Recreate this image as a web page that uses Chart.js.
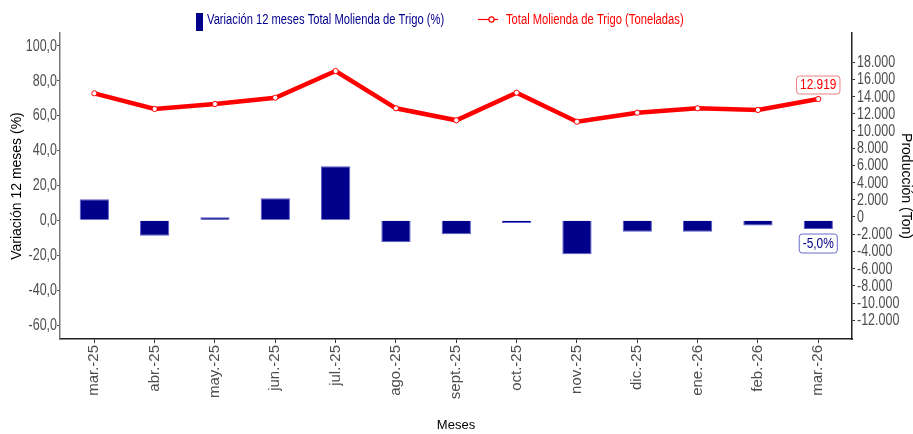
<!DOCTYPE html>
<html>
<head>
<meta charset="utf-8">
<script src="https://cdn.jsdelivr.net/npm/chart.js@4.4.1/dist/chart.umd.min.js"></script>
<style>
  html, body { margin: 0; padding: 0; background: #fff; }
  #wrap { width: 913px; height: 434px; position: relative; }
</style>
</head>
<body>
<div id="wrap"><canvas id="chart"></canvas></div>
<script>
// data
const meses = ['mar.-25', 'abr.-25', 'may.-25', 'jun.-25', 'jul.-25', 'ago.-25', 'sept.-25',
  'oct.-25', 'nov.-25', 'dic.-25', 'ene.-26', 'feb.-26', 'mar.-26'];
const variacion = [12.0, -8.8, 1.7, 12.6, 31.0, -12.6, -8.0, -1.5, -19.5, -6.5, -6.5, -3.0, -5.0];
const molienda = [13530, 11850, 12380, 13060, 15930, 11920, 10630, 13600, 10480, 11450, 11920, 11740, 12919];
const leftTicks = [-60, -40, -20, 0, 20, 40, 60, 80, 100];
const rightTicks = [-12000, -10000, -8000, -6000, -4000, -2000, 0, 2000, 4000, 6000, 8000,
  10000, 12000, 14000, 16000, 18000];

const NAVY = '#00008B';
const RED = '#FF0000';
const SANS = '"Liberation Sans", Arial, sans-serif';

const fmtPct = v => v.toFixed(1).replace('.', ',');
const fmtTon = v => Math.round(v).toString().replace(/\B(?=(\d{3})+(?!\d))/g, '.');

function fixedTicks(list) {
  return scale => { scale.ticks = list.map(v => ({ value: v })); };
}

function roundRect(ctx, x, y, w, h, r) {
  ctx.beginPath();
  ctx.moveTo(x + r, y);
  ctx.lineTo(x + w - r, y);
  ctx.quadraticCurveTo(x + w, y, x + w, y + r);
  ctx.lineTo(x + w, y + h - r);
  ctx.quadraticCurveTo(x + w, y + h, x + w - r, y + h);
  ctx.lineTo(x + r, y + h);
  ctx.quadraticCurveTo(x, y + h, x, y + h - r);
  ctx.lineTo(x, y + r);
  ctx.quadraticCurveTo(x, y, x + r, y);
  ctx.closePath();
}

// narrow-looking text: squeeze horizontally
function narrowText(ctx, text, x, y, sx, align) {
  ctx.save();
  ctx.translate(x, y);
  ctx.scale(sx, 1);
  ctx.textAlign = align;
  ctx.fillText(text, 0, 0);
  ctx.restore();
}

// legend, narrow y tick labels, value labels for the last month
const extras = {
  id: 'extras',
  afterDraw(chart) {
    const ctx = chart.ctx;
    const { y, yR } = chart.scales;
    ctx.save();
    ctx.textBaseline = 'middle';

    // y tick labels
    ctx.font = '16px ' + SANS;
    ctx.fillStyle = '#4d4d4d';
    leftTicks.forEach(v => narrowText(ctx, fmtPct(v), y.right - 3, y.getPixelForValue(v) + 0.5, 0.78, 'right'));
    rightTicks.forEach(v => narrowText(ctx, fmtTon(v), yR.left + 5, yR.getPixelForValue(v) + 0.5, 0.78, 'left'));

    // legend
    ctx.font = '14px ' + SANS;
    ctx.fillStyle = NAVY;
    ctx.fillRect(196, 13, 7, 18);
    narrowText(ctx, 'Variación 12 meses Total Molienda de Trigo (%)', 207, 20.5, 0.8, 'left');

    ctx.strokeStyle = RED;
    ctx.lineWidth = 1.2;
    ctx.beginPath();
    ctx.moveTo(478, 19.5);
    ctx.lineTo(498, 19.5);
    ctx.stroke();
    ctx.beginPath();
    ctx.arc(491.5, 19.5, 2.6, 0, Math.PI * 2);
    ctx.fillStyle = '#fff';
    ctx.fill();
    ctx.stroke();
    ctx.fillStyle = RED;
    narrowText(ctx, 'Total Molienda de Trigo (Toneladas)', 506, 20.5, 0.8, 'left');

    // labels on the last point / bar
    const last = meses.length - 1;
    const x = chart.scales.x.getPixelForValue(last);
    const yLine = chart.scales.yLine.getPixelForValue(molienda[last]);
    const yBar = y.getPixelForValue(variacion[last]);

    const t1 = fmtTon(molienda[last]);
    const w1 = ctx.measureText(t1).width * 0.85 + 7;
    roundRect(ctx, x - w1 / 2, yLine - 23, w1, 18, 3);
    ctx.fillStyle = '#fff';
    ctx.fill();
    ctx.strokeStyle = '#F08080';
    ctx.lineWidth = 1;
    ctx.stroke();
    ctx.fillStyle = RED;
    narrowText(ctx, t1, x, yLine - 13.5, 0.85, 'center');

    const t2 = fmtPct(variacion[last]) + '%';
    const w2 = ctx.measureText(t2).width * 0.85 + 7;
    roundRect(ctx, x - w2 / 2, yBar + 5, w2, 19, 3);
    ctx.fillStyle = '#fff';
    ctx.fill();
    ctx.strokeStyle = '#6A6AC8';
    ctx.stroke();
    ctx.fillStyle = NAVY;
    narrowText(ctx, t2, x, yBar + 15, 0.85, 'center');
    ctx.restore();
  }
};

new Chart(document.getElementById('chart'), {
  data: {
    datasets: [
      {
        type: 'line',
        label: 'Total Molienda de Trigo (Toneladas)',
        data: molienda.map((v, i) => ({ x: i, y: v })),
        yAxisID: 'yLine',
        borderColor: RED,
        borderWidth: 4.5,
        pointRadius: 2.6,
        pointBackgroundColor: '#fff',
        pointBorderColor: RED,
        pointBorderWidth: 1,
        tension: 0,
        order: 0
      },
      {
        type: 'bar',
        label: 'Variación 12 meses Total Molienda de Trigo (%)',
        data: variacion.map((v, i) => ({ x: i, y: v })),
        yAxisID: 'y',
        backgroundColor: NAVY,
        borderColor: '#5A5AC8',
        borderWidth: 1,
        categoryPercentage: 1.0,
        barPercentage: 0.485,
        order: 1
      }
    ]
  },
  options: {
    responsive: true,
    maintainAspectRatio: false,
    animation: false,
    layout: { padding: { top: 33, left: 0, right: 0, bottom: 0 } },
    plugins: { legend: { display: false }, tooltip: { enabled: false } },
    scales: {
      x: {
        type: 'linear',
        offset: false,
        min: -0.569,
        max: 12.559,
        afterBuildTicks: fixedTicks(meses.map((m, i) => i)),
        grid: { display: true, offset: false, drawOnChartArea: false, tickLength: 4, color: '#333' },
        border: { display: true, color: '#222', width: 1.5 },
        ticks: {
          autoSkip: false, minRotation: 90, maxRotation: 90, padding: 2,
          color: '#4d4d4d', font: { family: SANS, size: 15 },
          callback: v => meses[v]
        },
        title: {
          display: true, text: 'Meses', color: '#000',
          font: { family: SANS, size: 13 }, padding: { top: 0, bottom: 1 }
        },
        afterFit: s => { s.height = 95; }
      },
      y: {
        position: 'left',
        min: -68.0,
        max: 107.3,
        afterBuildTicks: fixedTicks(leftTicks),
        grid: { display: true, drawOnChartArea: false, tickLength: 3, color: '#555' },
        border: { display: true, color: '#777', width: 1.5 },
        ticks: { display: false },
        title: {
          display: true, text: 'Variación 12 meses (%)', color: '#000',
          font: { family: SANS, size: 14, lineHeight: 1.2 }, padding: { top: 9, bottom: 0 }
        },
        afterFit: s => { s.width = 60; }
      },
      yR: {
        position: 'right',
        min: -14186,
        max: 21395,
        afterBuildTicks: fixedTicks(rightTicks),
        grid: { display: true, drawOnChartArea: false, tickLength: 3, color: '#333' },
        border: { display: true, color: '#222', width: 1.5 },
        ticks: { display: false },
        title: {
          display: true, text: 'Producción (Ton)', color: '#000',
          font: { family: SANS, size: 14, lineHeight: 1.0 }, padding: { top: 0, bottom: 0 }
        },
        afterFit: s => { s.width = 61; }
      },
      yLine: {
        display: false,
        min: -12855,
        max: 20007
      }
    }
  },
  plugins: [extras]
});
</script>
</body>
</html>
